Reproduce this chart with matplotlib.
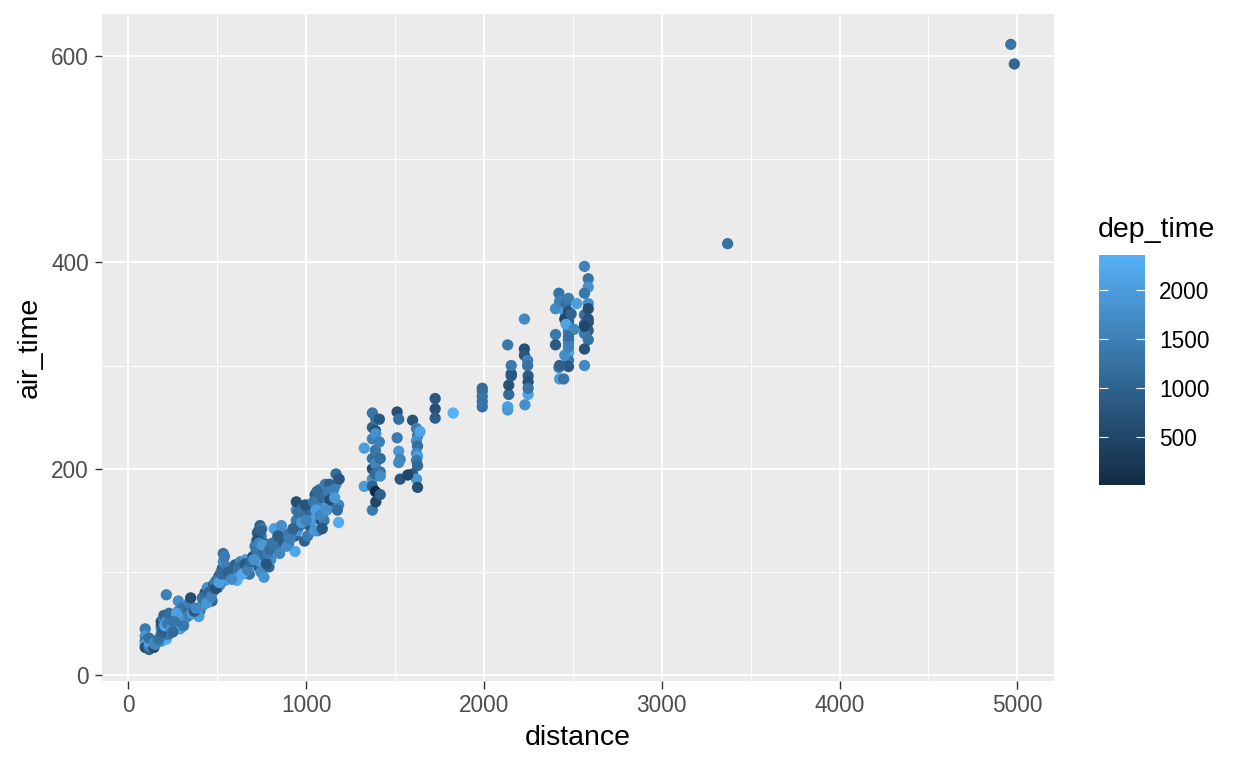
import matplotlib
matplotlib.use("Agg")
import matplotlib.pyplot as plt
from matplotlib.colors import LinearSegmentedColormap, Normalize
from matplotlib.cm import ScalarMappable

plt.rcParams['font.family'] = ['Liberation Sans', 'DejaVu Sans']

# flights: distance / air_time / dep_time, grouped by distance band
# short hops (< 250)
dist_a = [94, 94, 94, 94, 94, 116, 116, 116, 116, 143, 143,
          184, 184, 184, 184, 184, 184, 199, 199, 199, 199, 199, 199,
          213, 213, 213, 213, 213, 228, 228, 228, 228, 228]
air_a = [45, 38, 33, 30, 27, 25, 28, 32, 36, 27, 31,
         33, 36, 40, 45, 48, 52, 38, 42, 46, 50, 55, 58,
         35, 40, 45, 52, 78, 40, 44, 48, 55, 60]
dep_a = [1400, 1850, 1300, 2100, 700, 900, 1500, 2050, 1200, 600, 1700,
         1900, 800, 1450, 2150, 1100, 650, 1600, 2000, 900, 1350, 1750, 1050,
         2200, 1250, 700, 1900, 1500, 1300, 2250, 850, 1600, 1150]

# 250 - 350
dist_b = [264, 264, 280, 280, 290, 301, 301, 301, 320, 340, 341, 350, 270, 310]
air_b = [50, 55, 62, 72, 45, 52, 58, 65, 55, 62, 70, 75, 60, 48]
dep_b = [1800, 1000, 1400, 1700, 2100, 650, 1550, 1250, 1900, 1100, 1500, 600, 2050, 1350]

# 380 - 550
dist_c = [383, 400, 410, 419, 425, 431, 431, 444, 460, 479, 479, 488, 502, 502,
          509, 520, 529, 533, 533, 544, 544, 550, 395, 470, 515]
air_c = [60, 62, 66, 70, 73, 75, 80, 85, 78, 82, 88, 90, 85, 93,
         96, 100, 104, 110, 118, 92, 98, 105, 57, 72, 88]
dep_c = [1200, 800, 1650, 1900, 1050, 1450, 700, 1750, 2000, 1300, 900, 1550, 1150, 1850,
         650, 1400, 1000, 1700, 1250, 2150, 850, 1500, 1950, 1100, 1600]

# 550 - 800
dist_d = [570, 590, 600, 630, 650, 660, 700, 719, 719, 719, 733, 733, 733, 733,
          740, 740, 740, 746, 746, 760, 760, 762, 762, 770, 790, 800, 610, 680, 725, 750]
air_d = [96, 100, 107, 110, 103, 112, 115, 110, 120, 130, 105, 118, 125, 140,
         110, 130, 145, 100, 135, 112, 122, 128, 95, 118, 105, 112, 92, 98, 138, 142]
dep_d = [1350, 1800, 950, 1600, 1200, 2000, 700, 1450, 1100, 1750, 850, 1300, 1550, 600,
         1900, 1250, 1000, 1650, 1400, 2100, 750, 1150, 1850, 1500, 1050, 1700, 2200, 1300, 900, 1450]

# extra points in the dense lower band
dist_e = [150, 170, 190, 205, 220, 240, 250, 255, 340, 360,
          370, 380, 415, 440, 450, 465, 490, 495, 510, 525,
          540, 560, 580, 620, 640, 655, 670, 690, 705, 712,
          728, 735, 745, 755, 765, 775, 785, 795]
air_e = [30, 35, 42, 48, 50, 45, 42, 52, 58, 60,
         62, 65, 75, 70, 80, 76, 84, 92, 90, 98,
         115, 100, 93, 104, 98, 108, 102, 110, 112, 125,
         132, 128, 140, 126, 116, 108, 118, 122]
dep_e = [1600, 1200, 900, 2100, 1400, 1750, 1100, 1300, 1500, 2000,
         800, 1650, 1250, 1900, 1050, 1550, 700, 1350, 2050, 1150,
         1450, 950, 1700, 1250, 2200, 850, 1500, 1100, 1800, 1350,
         650, 1600, 1000, 1950, 1200, 750, 1450, 1150]

# 800 - 1000
dist_f = [820, 830, 850, 870, 876, 900, 937, 937, 944, 944, 944, 950, 963, 970, 990, 860, 915, 980]
air_f = [142, 125, 118, 130, 137, 128, 120, 135, 150, 160, 168, 140, 145, 155, 130, 145, 138, 162]
dep_f = [2050, 1300, 1600, 800, 1450, 1150, 2150, 1000, 1350, 1700, 650, 1900, 1250, 1500, 950, 1750, 1400, 1200]

# 1000 - 1200
dist_g = [1008, 1017, 1023, 1028, 1035, 1050, 1065, 1065, 1069, 1076, 1085, 1085,
          1089, 1096, 1096, 1107, 1120, 1140, 1150, 1167, 1167, 1182, 1182, 1185,
          1010, 1045, 1100, 1130]
air_g = [135, 145, 155, 165, 150, 175, 140, 160, 170, 180, 150, 165,
         172, 158, 180, 185, 165, 175, 168, 185, 195, 148, 165, 190,
         160, 140, 150, 185]
dep_g = [1400, 900, 1650, 1200, 2000, 700, 1500, 1100, 1800, 1350, 600, 1550,
         1000, 1950, 1250, 1450, 2100, 850, 1300, 1700, 1150, 2250, 1600, 750,
         1050, 1850, 1400, 950]

dist_h = [810, 840, 890, 910, 925, 955, 975, 995, 1000, 1040,
          1055, 1060, 1080, 1090, 1110, 1115, 1125, 1135, 1155, 1160, 1175]
air_h = [128, 135, 125, 132, 142, 158, 148, 165, 150, 168,
         160, 178, 155, 142, 172, 160, 178, 170, 180, 172, 160]
dep_h = [1300, 900, 1700, 1450, 1000, 1250, 1900, 700, 1550, 1350,
         2050, 1100, 1600, 800, 1200, 1750, 1400, 650, 1500, 1950, 1150]

# 1300 - 1420
dist_i = [1326, 1326, 1372, 1372, 1372, 1372, 1372, 1372, 1372, 1372,
          1389, 1389, 1389, 1389, 1389, 1391, 1391, 1391, 1411, 1411,
          1416, 1416, 1416, 1416]
air_i = [220, 183, 254, 240, 229, 210, 200, 190, 183, 160,
         237, 218, 205, 195, 178, 248, 234, 168, 248, 226,
         210, 197, 193, 175]
dep_i = [2000, 1950, 1300, 900, 1500, 1200, 600, 1750, 1000, 1400,
         700, 1350, 1600, 1100, 5, 1250, 1800, 500, 800, 1500,
         1150, 1300, 1700, 950]

# 1500 - 1650
dist_j = [1511, 1520, 1511, 1520, 1528, 1520, 1528,
          1598, 1620, 1626, 1620, 1626, 1620, 1626, 1620, 1626, 1598, 1620, 1626, 1571, 1640]
air_j = [255, 248, 230, 217, 209, 206, 190,
         247, 239, 232, 227, 222, 215, 212, 208, 203, 195, 190, 182, 194, 236]
dep_j = [650, 1200, 1400, 1900, 1500, 1650, 750,
         700, 1450, 1300, 1750, 1200, 1600, 2000, 1350, 1100, 800, 1900, 650, 500, 2100]

# 1700 - 2000
dist_k = [1725, 1725, 1725, 1826, 1990, 1990, 1990, 1990, 1990]
air_k = [268, 258, 249, 254, 260, 265, 270, 275, 278]
dep_k = [800, 700, 900, 2355, 1200, 1300, 1250, 1350, 1150]

# 2100 - 2250
dist_l = [2133, 2133, 2139, 2139, 2153, 2153, 2153, 2133,
          2227, 2227, 2227, 2245, 2245, 2248, 2248, 2248, 2248, 2230]
air_l = [320, 257, 272, 281, 292, 290, 300, 260,
         345, 316, 310, 305, 300, 290, 284, 272, 278, 262]
dep_l = [1350, 1850, 1100, 700, 600, 800, 1400, 2000,
         1650, 650, 750, 1500, 1250, 900, 700, 2100, 1300, 1800]

# 2400 - 2510
dist_m = [2402, 2421, 2425, 2454, 2461, 2475, 2475, 2475, 2475, 2475,
          2475, 2475, 2475, 2475, 2475, 2475, 2421, 2425, 2402, 2454,
          2461, 2448, 2490, 2506, 2402, 2454, 2475, 2425, 2475, 2475]
air_m = [355, 370, 362, 352, 360, 352, 344, 342, 333, 333,
         325, 322, 313, 312, 305, 299, 298, 287, 330, 345,
         340, 287, 350, 335, 320, 310, 365, 300, 328, 318]
dep_m = [1700, 1300, 1500, 1900, 1200, 650, 1450, 1000, 1800, 1350,
         700, 1600, 1150, 2250, 1250, 800, 1550, 1950, 1400, 500,
         2100, 1300, 1050, 1650, 850, 1750, 1400, 950, 1200, 1550]

# 2520 - 2600
dist_n = [2565, 2586, 2586, 2586, 2522, 2565, 2586, 2586, 2565, 2586,
          2565, 2565, 2586, 2565, 2565, 2586, 2565]
air_n = [396, 384, 376, 360, 360, 349, 342, 334, 331, 325,
         316, 300, 355, 340, 370, 345, 338]
dep_n = [1550, 1300, 1800, 1700, 2000, 1200, 550, 900, 1400, 1250,
         700, 1650, 600, 1100, 1350, 750, 500]

# long haul
dist_o = [3370, 4963, 4983]
air_o = [418, 611, 592]
dep_o = [1250, 1300, 1050]

distance = (dist_a + dist_b + dist_c + dist_d + dist_e + dist_f + dist_g + dist_h
            + dist_i + dist_j + dist_k + dist_l + dist_m + dist_n + dist_o)
air_time = (air_a + air_b + air_c + air_d + air_e + air_f + air_g + air_h
            + air_i + air_j + air_k + air_l + air_m + air_n + air_o)
dep_time = (dep_a + dep_b + dep_c + dep_d + dep_e + dep_f + dep_g + dep_h
            + dep_i + dep_j + dep_k + dep_l + dep_m + dep_n + dep_o)

W, H = 1248, 768
fig = plt.figure(figsize=(W / 100, H / 100), dpi=100)

# panel in pixels: left 102, right 1054, top 14, bottom 681
ax = fig.add_axes([102 / W, (H - 681) / H, (1054 - 102) / W, (681 - 14) / H])
ax.set_facecolor('#EBEBEB')
for s in ax.spines.values():
    s.set_visible(False)

cmap = LinearSegmentedColormap.from_list('gg', ['#132B43', '#56B1F7'])
norm = Normalize(vmin=min(dep_time), vmax=max(dep_time))

ax.scatter(distance, air_time, c=dep_time, cmap=cmap, norm=norm,
           s=66, linewidths=0, zorder=3)

ax.set_xlim(-149, 5206)
ax.set_ylim(-5.5, 640.4)
ax.set_xticks([0, 1000, 2000, 3000, 4000, 5000])
ax.set_yticks([0, 200, 400, 600])
ax.set_xticks([500, 1500, 2500, 3500, 4500], minor=True)
ax.set_yticks([100, 300, 500], minor=True)
ax.grid(True, which='major', color='white', linewidth=1.45, zorder=1)
ax.grid(True, which='minor', color='white', linewidth=0.75, zorder=1)
ax.set_axisbelow(True)
ax.tick_params(which='major', length=5.4, width=1.0, color='#333333',
               labelsize=16.3, labelcolor='#4D4D4D', pad=4)
ax.tick_params(which='minor', length=0)

fig.text(578 / W, 1 - 738 / H, 'distance', fontsize=20.5, ha='center', va='center')
fig.text(30 / W, 1 - 347 / H, 'air_time', fontsize=20.5, ha='center', va='center',
         rotation=90)

# colour bar legend
cax = fig.add_axes([1099 / W, (H - 485) / H, 46 / W, 230 / H])
cb = fig.colorbar(ScalarMappable(norm=norm, cmap=cmap), cax=cax)
cb.outline.set_visible(False)
cb.set_ticks([500, 1000, 1500, 2000])
cax.yaxis.set_ticks_position('both')
cax.tick_params(direction='in', length=6.6, width=0.8, color='white',
                labelsize=16.3, labelcolor='black', pad=10,
                labelleft=False, labelright=True)
fig.text(1098 / W, 1 - 237 / H, 'dep_time', fontsize=20.5, ha='left', va='baseline')

fig.savefig('out.png', dpi=100)
